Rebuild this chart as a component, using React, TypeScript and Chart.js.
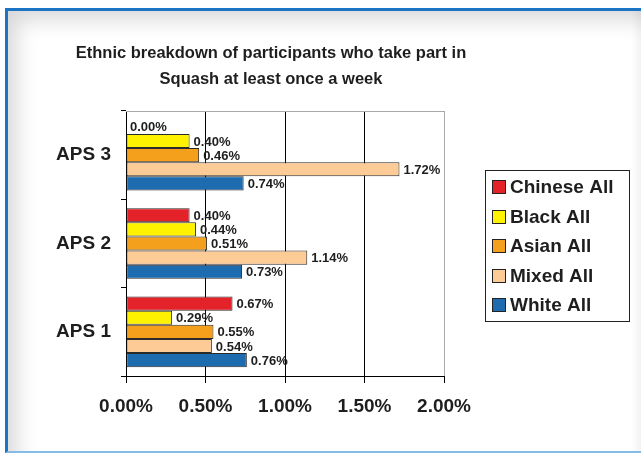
import React, { useEffect, useRef } from 'react';
import { Chart, registerables } from 'chart.js';

Chart.register(...registerables);

const categories = ['APS 3', 'APS 2', 'APS 1'];
const seriesNames = ['Chinese All', 'Black All', 'Asian All', 'Mixed All', 'White All'];
const chineseAll = [0.0, 0.4, 0.67];
const blackAll = [0.4, 0.44, 0.29];
const asianAll = [0.46, 0.51, 0.55];
const mixedAll = [1.72, 1.14, 0.54];
const whiteAll = [0.74, 0.73, 0.76];
const seriesValues = [chineseAll, blackAll, asianAll, mixedAll, whiteAll];
const seriesColors = ['#e3222a', '#fff200', '#f5a01c', '#fdcb96', '#1e6cb0'];
const xMin = 0;
const xMax = 2;
const xStep = 0.5;
const titleLines = ['Ethnic breakdown of participants who take part in', 'Squash at least once a week'];

const FONT = '"Liberation Sans", Arial, Helvetica, sans-serif';
const TEXT = '#1e1e1e';

const pct = (v: number) => v.toFixed(2) + '%';

const plotTopLine = {
  id: 'plotTopLine',
  beforeDatasetsDraw(chart: any) {
    const { ctx, chartArea } = chart;
    ctx.save();
    ctx.strokeStyle = '#a8a8a8';
    ctx.lineWidth = 1;
    ctx.beginPath();
    ctx.moveTo(chartArea.left, Math.round(chartArea.top) + 0.5);
    ctx.lineTo(chartArea.right, Math.round(chartArea.top) + 0.5);
    ctx.stroke();
    ctx.restore();
  },
};

const valueLabels = {
  id: 'valueLabels',
  afterDatasetsDraw(chart: any) {
    const { ctx } = chart;
    ctx.save();
    ctx.font = `bold 13px ${FONT}`;
    ctx.fillStyle = TEXT;
    ctx.textAlign = 'left';
    ctx.textBaseline = 'middle';
    chart.data.datasets.forEach((ds: any, di: number) => {
      const meta = chart.getDatasetMeta(di);
      meta.data.forEach((bar: any, i: number) => {
        ctx.fillText(pct(ds.data[i]), bar.x + 4, bar.y + 1);
      });
    });
    ctx.restore();
  },
};

const titlePlugin = {
  id: 'customTitle',
  afterDraw(chart: any) {
    const { ctx } = chart;
    ctx.save();
    ctx.font = `bold 16.5px ${FONT}`;
    ctx.fillStyle = TEXT;
    ctx.textAlign = 'center';
    ctx.textBaseline = 'alphabetic';
    ctx.fillText(titleLines[0], 271, 58);
    ctx.fillText(titleLines[1], 271, 84);
    ctx.restore();
  },
};

const legendPlugin = {
  id: 'boxLegend',
  afterDraw(chart: any) {
    const { ctx } = chart;
    const bx = 485.5, by = 170.5, bw = 144, bh = 151;
    ctx.save();
    ctx.fillStyle = '#ffffff';
    ctx.fillRect(bx, by, bw, bh);
    ctx.strokeStyle = '#222';
    ctx.lineWidth = 1;
    ctx.strokeRect(bx, by, bw, bh);
    ctx.font = `bold 19px ${FONT}`;
    ctx.textAlign = 'left';
    ctx.textBaseline = 'middle';
    chart.data.datasets.forEach((ds: any, i: number) => {
      const cy = 187 + i * 29.5;
      ctx.fillStyle = ds.backgroundColor;
      ctx.fillRect(492.5, Math.round(cy - 7) + 0.5, 13, 13);
      ctx.strokeStyle = '#222';
      ctx.strokeRect(492.5, Math.round(cy - 7) + 0.5, 13, 13);
      ctx.fillStyle = TEXT;
      ctx.fillText(ds.label, 510, cy + 1);
    });
    ctx.restore();
  },
};

export default function App() {
  const canvasRef = useRef<HTMLCanvasElement | null>(null);

  useEffect(() => {
    const canvas = canvasRef.current;
    if (!canvas) return;
    const chart = new Chart(canvas, {
      type: 'bar',
      data: {
        labels: categories,
        datasets: seriesNames.map((name, i) => ({
          label: name,
          data: seriesValues[i],
          backgroundColor: seriesColors[i],
          borderColor: '#2a2a2a',
          borderWidth: 1,
          borderSkipped: false,
          categoryPercentage: 0.8,
          barPercentage: 1.0,
        })),
      },
      options: {
        indexAxis: 'y',
        animation: false,
        responsive: false,
        devicePixelRatio: 1,
        layout: { padding: { left: 0, top: 111, right: 197, bottom: 27 } },
        plugins: {
          legend: { display: false },
          title: { display: false },
          tooltip: { enabled: false },
        },
        scales: {
          x: {
            type: 'linear',
            min: xMin,
            max: xMax,
            ticks: {
              stepSize: xStep,
              callback: (v: any) => pct(Number(v)),
              font: { family: FONT, size: 19, weight: 'bold' },
              color: TEXT,
              padding: 12,
            },
            grid: {
              color: (c: any) => (c.tick && c.tick.value === xMax ? '#a8a8a8' : '#000'),
              tickColor: '#000',
              tickLength: 7,
              lineWidth: 1,
            },
            border: { color: '#000', width: 1 },
            afterFit: (s: any) => {
              s.height = 50;
            },
          },
          y: {
            type: 'category',
            ticks: {
              font: { family: FONT, size: 19, weight: 'bold' },
              color: TEXT,
              padding: 10,
            },
            grid: {
              offset: true,
              drawOnChartArea: false,
              tickColor: '#000',
              tickLength: 5,
            },
            border: { color: '#000', width: 1 },
            afterFit: (s: any) => {
              s.width = 126;
            },
          },
        },
      },
      plugins: [plotTopLine, valueLabels, titlePlugin, legendPlugin],
    });
    return () => chart.destroy();
  }, []);

  return (
    <div style={{ position: 'fixed', left: 0, top: 0, width: 641, height: 453, background: '#fff', overflow: 'hidden' }}>
      <div
        style={{
          position: 'absolute',
          left: 5,
          top: 8,
          width: 641 - 5 + 10,
          height: 453 - 8,
          boxSizing: 'border-box',
          borderTop: '3px solid #1b74c4',
          borderLeft: '3px solid #1b74c4',
          borderBottom: '2px solid #86bbe6',
          background: '#fff',
          boxShadow: 'inset 16px 16px 22px -8px rgba(0,0,0,0.16)',
        }}
      />
      <div
        style={{
          position: 'absolute',
          right: 0,
          top: 11,
          width: 10,
          height: 440,
          background: 'linear-gradient(to right, rgba(0,0,0,0), rgba(0,0,0,0.05))',
        }}
      />
      <canvas
        ref={canvasRef}
        width={641}
        height={453}
        style={{ position: 'absolute', left: 0, top: 0, width: 641, height: 453 }}
      />
    </div>
  );
}
